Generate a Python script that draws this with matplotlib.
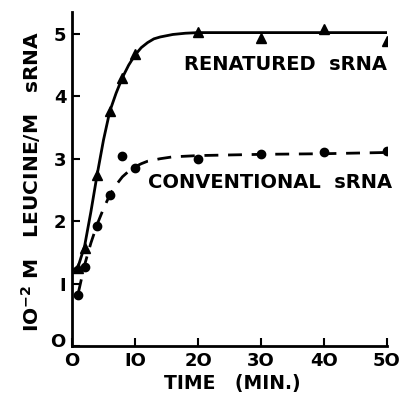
import matplotlib
matplotlib.use("Agg")
import matplotlib.pyplot as plt

# Data points (time in min, value)
ren_t = [1, 2, 4, 6, 8, 10, 20, 30, 40, 50]
ren_y = [1.25, 1.57, 2.74, 3.76, 4.29, 4.68, 5.03, 4.94, 5.08, 4.88]
con_t = [1, 2, 4, 6, 8, 10, 20, 30, 40, 50]
con_y = [0.82, 1.27, 1.92, 2.42, 3.04, 2.85, 3.00, 3.07, 3.10, 3.12]

# Drawn curves
ren_curve_t = [0, 1, 2, 3, 4, 5, 6, 7, 8, 9, 10, 11, 12, 13, 14, 16, 18, 20, 25, 30, 40, 50]
ren_curve_y = [1.2, 1.28, 1.6, 2.15, 2.75, 3.3, 3.76, 4.05, 4.3, 4.5, 4.66, 4.78, 4.86, 4.92, 4.95, 4.99, 5.01, 5.02, 5.02, 5.02, 5.02, 5.02]
con_curve_t = [1, 2, 3, 4, 5, 6, 7, 8, 9, 10, 11, 12, 14, 16, 18, 20, 25, 30, 40, 50]
con_curve_y = [0.85, 1.3, 1.65, 1.95, 2.2, 2.42, 2.58, 2.71, 2.8, 2.87, 2.92, 2.96, 3.0, 3.03, 3.04, 3.05, 3.06, 3.07, 3.08, 3.1]

x_ticks = [0, 10, 20, 30, 40, 50]
y_ticks = [0, 1, 2, 3, 4, 5]

plt.rcParams['font.family'] = ['DejaVu Sans']
plt.rcParams['mathtext.default'] = 'bf'
fig = plt.figure(figsize=(4.01, 3.93), dpi=100)
ax = fig.add_axes([72/401, 1-346/393, (387-72)/401, (346-12)/393])

ax.plot(ren_curve_t, ren_curve_y, color='black', lw=2.0, solid_capstyle='round')
ax.plot(con_curve_t, con_curve_y, color='black', lw=2.0, dashes=(5, 3.5))
ax.plot(ren_t, ren_y, linestyle='none', marker='^', color='black', markersize=6.5)
ax.plot(con_t, con_y, linestyle='none', marker='o', color='black', markersize=6)

ax.set_xlim(0, 50)
ax.set_ylim(0, 5.35)
ax.set_xticks(x_ticks)
ax.set_yticks(y_ticks)
ax.set_xticklabels(['O', 'IO', '2O', '3O', '4O', '5O'])
ax.set_yticklabels(['', 'I', '2', '3', '4', '5'])
ax.tick_params(direction='in', length=6, width=1.5, labelsize=13, pad=4)
for lab in ax.get_xticklabels() + ax.get_yticklabels():
    lab.set_fontweight('bold')
ax.spines['top'].set_visible(False)
ax.spines['right'].set_visible(False)
ax.spines['left'].set_linewidth(2)
ax.spines['bottom'].set_linewidth(2)
ax.spines['left'].set_bounds(0, 5.35)

fig.text(58/401, 1-342/393, 'O', fontsize=13, fontweight='bold', ha='center', va='center')

ax.text(285/401, 1-64/393, 'RENATURED  sRNA', transform=fig.transFigure, fontsize=14,
        fontweight='bold', ha='center', va='center')
ax.text(270/401, 1-182/393, 'CONVENTIONAL  sRNA', transform=fig.transFigure, fontsize=14,
        fontweight='bold', ha='center', va='center')

fig.text(232/401, 1-383/393, 'TIME   (MIN.)', fontsize=13.5, fontweight='bold', ha='center', va='center')
fig.text(31/401, 1-182/393, r'IO$^{-2}$ M   LEUCINE/M   sRNA', fontsize=14.5, fontweight='bold',
         rotation=90, ha='center', va='center')

fig.savefig('out.png', dpi=100)
